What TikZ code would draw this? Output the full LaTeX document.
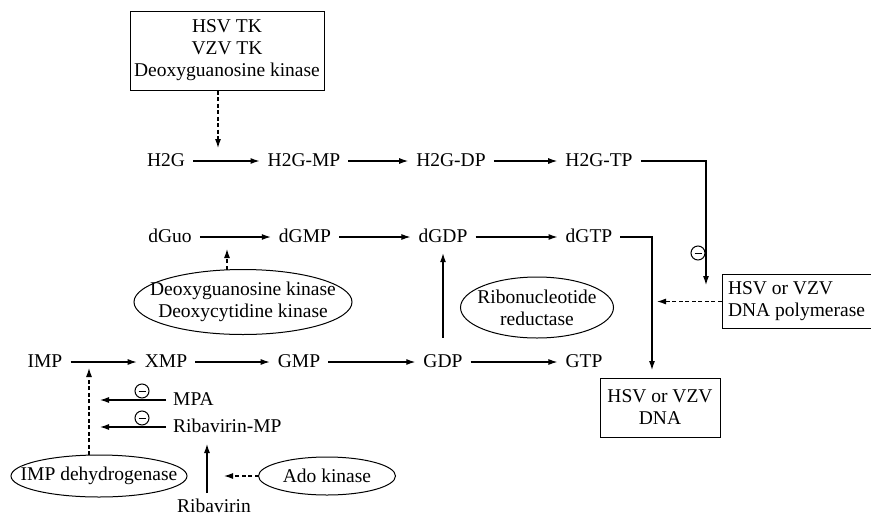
\documentclass[tikz,border=0pt]{standalone}
\usepackage{fontspec}
\setmainfont{Liberation Serif}
\usetikzlibrary{arrows.meta,calc}
\begin{document}
\begin{tikzpicture}[x=1pt,y=-1pt,
  every node/.style={font=\fontsize{19.5}{22}\selectfont, inner sep=0pt},
  lbl/.style={anchor=base, text height=12pt, text depth=2pt, inner xsep=8pt},
  side/.style={anchor=base west, text height=12pt, text depth=2pt, inner xsep=7pt},
  arr/.style={-{Latex[length=9pt,width=6pt]}, line width=1.1pt},
  darr/.style={arr, dash pattern=on 4pt off 2.5pt},
  eline/.style={draw, line width=1pt},
  rbox/.style={rectangle, draw, line width=1pt, align=center},
  inh/.style={circle, draw, line width=1pt, minimum size=14pt,
    path picture={\draw[line width=1pt] ([xshift=3.5pt]path picture bounding box.west) -- ([xshift=-3.5pt]path picture bounding box.east);}}
]
\useasboundingbox (0,0) rectangle (871,515);

% top enzyme box
\node[rbox, minimum width=194pt, minimum height=79pt] (tk) at (227,50.5) {HSV TK\\VZV TK\\Deoxyguanosine kinase};

% H2G row
\node[lbl] (h2g)   at (166,166) {H2G};
\node[lbl] (h2gmp) at (304,166) {H2G-MP};
\node[lbl] (h2gdp) at (451,166) {H2G-DP};
\node[lbl] (h2gtp) at (599,166) {H2G-TP};
\draw[arr] (h2g) -- (h2gmp);
\draw[arr] (h2gmp) -- (h2gdp);
\draw[arr] (h2gdp) -- (h2gtp);
\coordinate (c1) at (218,148);
\draw[darr] (tk.south -| c1) -- (c1);

% dGuo row
\node[lbl] (dguo) at (170,242) {dGuo};
\node[lbl] (dgmp) at (305,242) {dGMP};
\node[lbl] (dgdp) at (443,242) {dGDP};
\node[lbl] (dgtp) at (589,242) {dGTP};
\draw[arr] (dguo) -- (dgmp);
\draw[arr] (dgmp) -- (dgdp);
\draw[arr] (dgdp) -- (dgtp);

% deoxyguanosine / deoxycytidine kinase ellipse
\node[align=center] (dk) at (243,302) {Deoxyguanosine kinase\\Deoxycytidine kinase};
\draw[eline] (dk.center) ellipse [x radius=109, y radius=32.5];
\coordinate (dktop) at (227,269.5);
\coordinate (c2) at (227,249);
\draw[darr] (dktop) -- (c2);

% ribonucleotide reductase
\node[align=center] (rr) at (537,307.5) {Ribonucleotide\\reductase};
\draw[eline] (rr.center) ellipse [x radius=76.5, y radius=30.5];

% polymerase box and DNA box
\node[rbox, align=left, inner xsep=6pt, minimum height=54pt] (pol) at (796.5,301.5) {HSV or VZV\\DNA polymerase};
\node[rbox, minimum width=120pt, minimum height=59pt] (dna) at (660,407.5) {HSV or VZV\\DNA};
\coordinate (polin) at (706,285);
\draw[arr] (h2gtp.east) -| (polin);
\node[inh] (i3) at (698,253) {};
\coordinate (polout) at (657,301.5);
\draw[darr] (pol.west) -- (polout);
\coordinate (dnain) at (652,370);
\draw[arr] (dgtp.east) -| (dnain);

% IMP row
\node[lbl] (imp) at (45,367) {IMP};
\node[lbl] (xmp) at (166,367) {XMP};
\node[lbl] (gmp) at (299,367) {GMP};
\node[lbl] (gdp) at (443,367) {GDP};
\node[lbl] (gtp) at (584,367) {GTP};
\draw[arr] (imp) -- (xmp);
\draw[arr] (xmp) -- (gmp);
\draw[arr] (gmp) -- (gdp);
\draw[arr] (gdp) -- (gtp);
\draw[arr, shorten <=17pt, shorten >=9pt] (gdp.north) -- (dgdp.south);

% inhibitors
\node[inh] (i1) at (142,391) {};
\node[inh] (i2) at (142,418) {};
\node[side] (mpa) at (166,405) {MPA};
\node[side] (ribmp) at (166,432) {Ribavirin-MP};
\coordinate (c4) at (100,400);
\coordinate (c5) at (100,427);
\draw[arr] (mpa.west) -- (c4);
\draw[arr] (ribmp.west) -- (c5);

% IMP dehydrogenase
\node (impdh) at (99,476) {IMP dehydrogenase};
\draw[eline] (impdh.center) ellipse [x radius=88, y radius=21];
\coordinate (impdhtop) at (89,455);
\coordinate (c3) at (89,368);
\draw[darr] (impdhtop) -- (c3);

% ribavirin
\node[lbl] (rib) at (214,512) {Ribavirin};
\coordinate (c6) at (207,444);
\coordinate (ribtop) at (207,493);
\draw[arr] (ribtop) -- (c6);

% Ado kinase
\node (ado) at (327,476) {Ado kinase};
\draw[eline] (ado.center) ellipse [x radius=68.5, y radius=19];
\coordinate (adoleft) at (258.5,476);
\coordinate (c7) at (224,476);
\draw[darr] (adoleft) -- (c7);
\end{tikzpicture}
\end{document}
